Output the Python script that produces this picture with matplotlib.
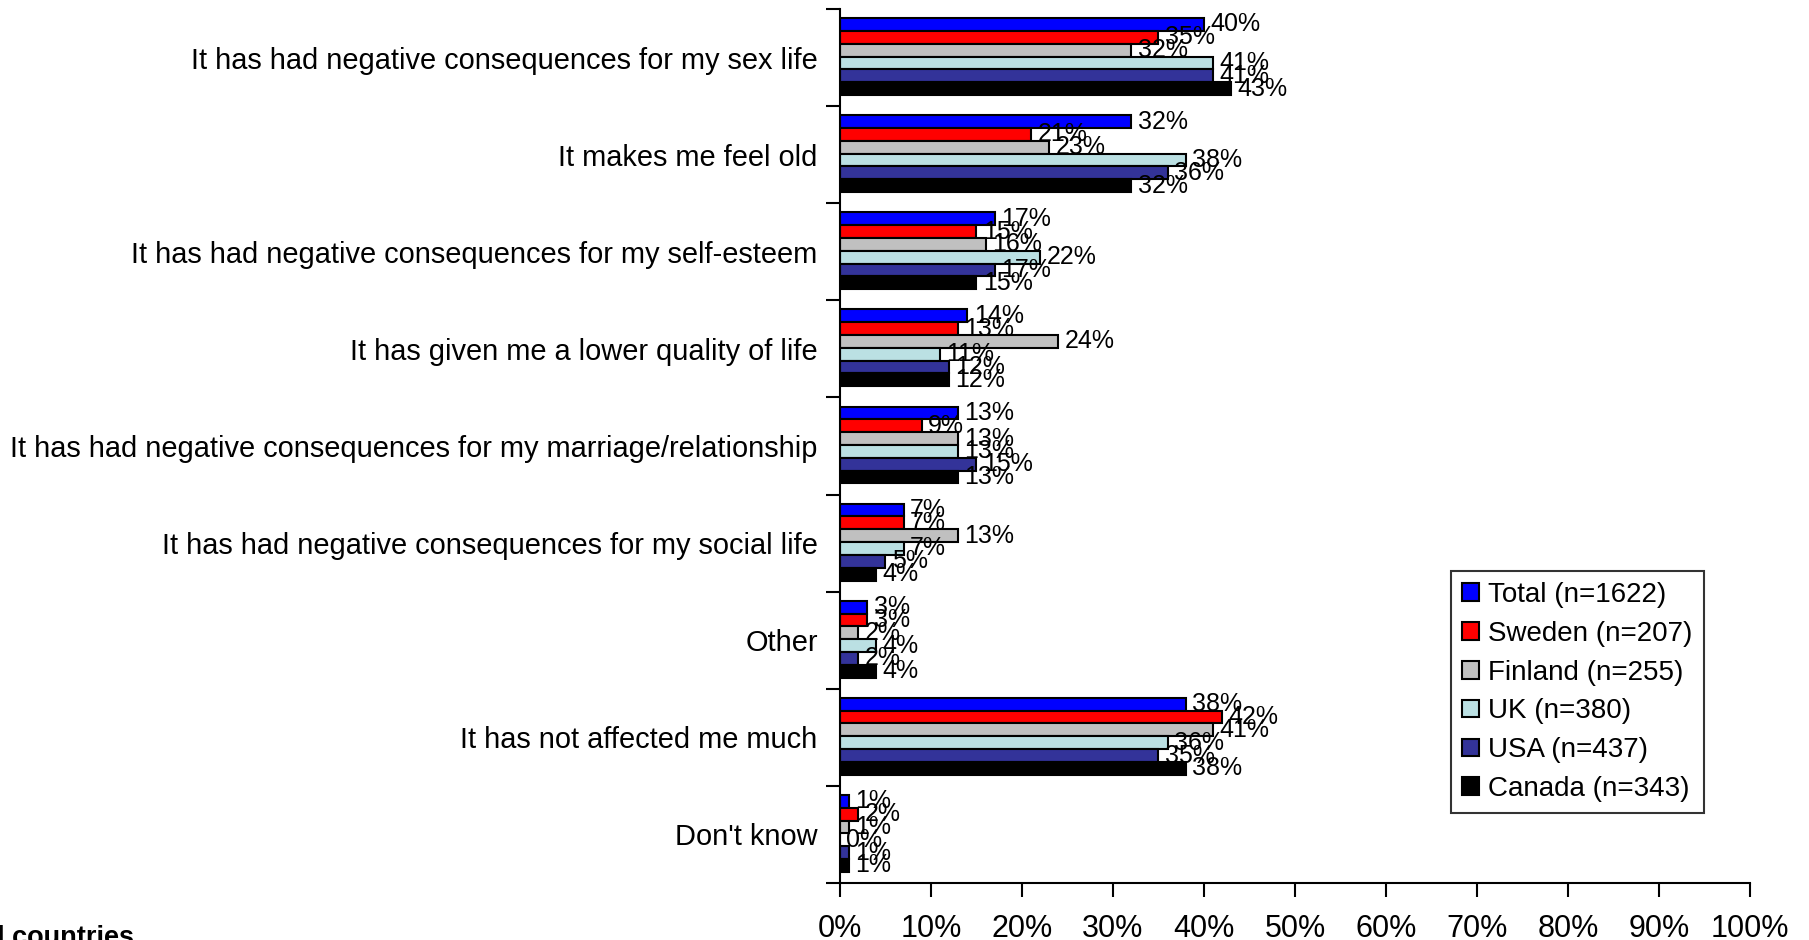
import numpy as np
import matplotlib
matplotlib.use('Agg')
import matplotlib.pyplot as plt

plt.rcParams['font.family'] = ['Liberation Sans', 'DejaVu Sans']

categories = [
    'It has had negative consequences for my sex life',
    'It makes me feel old',
    'It has had negative consequences for my self-esteem',
    'It has given me a lower quality of life',
    'It has had negative consequences for my marriage/relationship',
    'It has had negative consequences for my social life',
    'Other',
    'It has not affected me much',
    "Don't know",
]

series_names = ['Total (n=1622)', 'Sweden (n=207)', 'Finland (n=255)',
                'UK (n=380)', 'USA (n=437)', 'Canada (n=343)']

total = [40, 32, 17, 14, 13, 7, 3, 38, 1]
sweden = [35, 21, 15, 13, 9, 7, 3, 42, 2]
finland = [32, 23, 16, 24, 13, 13, 2, 41, 1]
uk = [41, 38, 22, 11, 13, 7, 4, 36, 0]
usa = [41, 36, 17, 12, 15, 5, 2, 35, 1]
canada = [43, 32, 15, 12, 13, 4, 4, 38, 1]

colors = ['#0000FF', '#FF0000', '#C0C0C0', '#BBE0E3', '#333399', '#000000']

fig = plt.figure(figsize=(18.09, 9.40), dpi=100)
ax = fig.add_axes([0.4643, 0.0606, 0.5031, 0.9298])

series = [total, sweden, finland, uk, usa, canada]
n_cat = len(categories)
bar_h = 0.132
offset0 = 0.093

for k, (vals, name, col) in enumerate(zip(series, series_names, colors)):
    y = np.arange(n_cat) + offset0 + k * bar_h + bar_h / 2
    ax.barh(y, vals, height=bar_h, color=col, edgecolor='black',
            linewidth=1.5, label=name)
    for yi, v in zip(y, vals):
        ax.text(v + 0.7, yi, f'{v}%', va='center', ha='left', fontsize=18)

ax.set_ylim(n_cat, 0)
ax.set_xlim(0, 100)

# boundary ticks between groups, labels centred on each group
ax.set_yticks(np.arange(n_cat + 1))
ax.set_yticklabels([])
ax.set_yticks(np.arange(n_cat) + 0.5, minor=True)
ax.set_yticklabels(categories, minor=True, fontsize=20.9)
ax.tick_params(axis='y', which='major', length=10, width=1.5, direction='out')
ax.tick_params(axis='y', which='minor', length=0, pad=16)

ax.set_xticks(np.arange(0, 101, 10))
ax.set_xticklabels([f'{t}%' for t in range(0, 101, 10)], fontsize=22)
ax.tick_params(axis='x', length=10, width=1.5, direction='out', pad=12)

for side in ['top', 'right']:
    ax.spines[side].set_visible(False)
for side in ['left', 'bottom']:
    ax.spines[side].set_linewidth(1.5)

leg = fig.legend(loc='upper left', bbox_to_anchor=(0.802, 0.3926),
                 fontsize=20, frameon=True, fancybox=False, shadow=False,
                 handlelength=0.6, handleheight=0.6, handletextpad=0.35,
                 labelspacing=0.46, borderpad=0.4, borderaxespad=0)
leg.get_frame().set_edgecolor('black')
leg.get_frame().set_linewidth(1.5)

fig.text(-0.0165, 0.016, 'All countries', fontsize=19.5, fontweight='bold',
         ha='left', va='top')

fig.savefig('out.png', dpi=100)
